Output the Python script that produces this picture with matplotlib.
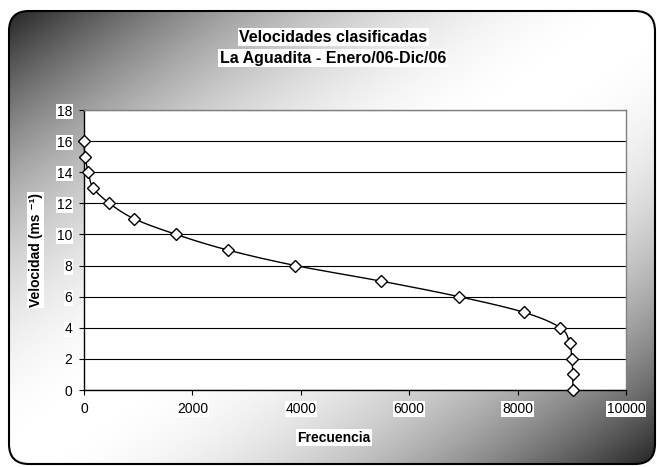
import numpy as np
import matplotlib
matplotlib.use("Agg")
import matplotlib.pyplot as plt
from matplotlib.patches import FancyBboxPatch

# ---- data ----
velocidad = [0, 1, 2, 3, 4, 5, 6, 7, 8, 9, 10, 11, 12, 13, 14, 15, 16]
frecuencia = [9020, 9020, 9000, 8960, 8790, 8110, 6920, 5480, 3900, 2650,
              1700, 930, 470, 170, 80, 20, 0]
x_ticks = [0, 2000, 4000, 6000, 8000, 10000]
y_ticks = [0, 2, 4, 6, 8, 10, 12, 14, 16, 18]
title_lines = ["Velocidades clasificadas", "La Aguadita - Enero/06-Dic/06"]
x_label = "Frecuencia"
y_label = "Velocidad (ms \u207b\u00b9)"

plt.rcParams['font.family'] = ['Liberation Sans', 'DejaVu Sans']

W, H = 657, 467
fig = plt.figure(figsize=(W / 100, H / 100), dpi=100)
fig.patch.set_facecolor('white')

# ---- background with diagonal gradient inside rounded frame ----
bg = fig.add_axes([0, 0, 1, 1])
bg.set_xlim(0, W)
bg.set_ylim(H, 0)
bg.axis('off')
x0, y0, x1, y1 = 9, 11, 655, 464
xs = np.linspace(0, 1, 300)
ys = np.linspace(0, 1, 300)
XX, YY = np.meshgrid(xs, ys)
d = np.abs(XX + YY - 1)
val = 1 - 0.85 * d ** 2
img = bg.imshow(val, cmap='gray', vmin=0, vmax=1, extent=[x0, x1, y1, y0],
                interpolation='bilinear', aspect='auto', zorder=0)
frame = FancyBboxPatch((x0, y0), x1 - x0, y1 - y0,
                       boxstyle="round,pad=0,rounding_size=20",
                       facecolor='none', edgecolor='black', linewidth=1.5,
                       zorder=2)
bg.add_patch(frame)
img.set_clip_path(frame)

# ---- titles ----
tbox = dict(facecolor='white', edgecolor='none', pad=1)
fig.text(333 / W, 1 - 37 / H, title_lines[0], ha='center', va='center',
         fontsize=11.5, fontweight='bold', bbox=tbox)
fig.text(333 / W, 1 - 58 / H, title_lines[1], ha='center', va='center',
         fontsize=11.5, fontweight='bold', bbox=tbox)

# ---- plot area ----
L, R, T, B = 84, 626, 110, 390
ax = fig.add_axes([L / W, 1 - B / H, (R - L) / W, (B - T) / H])
ax.set_facecolor('white')
ax.set_xlim(0, 10000)
ax.set_ylim(0, 18)
ax.set_xticks(x_ticks)
ax.set_yticks(y_ticks)
ax.set_xticklabels([str(v) for v in x_ticks])
ax.set_yticklabels([str(v) for v in y_ticks])
for lab in ax.get_xticklabels() + ax.get_yticklabels():
    lab.set_bbox(dict(facecolor='white', edgecolor='none', pad=0.5))
ax.tick_params(direction='out', length=3.5, width=0.8, colors='black',
               labelsize=10, pad=5)
ax.yaxis.grid(True, color='black', linewidth=0.8)
ax.set_axisbelow(True)
for s in ['left', 'bottom']:
    ax.spines[s].set_color('black')
    ax.spines[s].set_linewidth(1.0)
for s in ['top', 'right']:
    ax.spines[s].set_color('#808080')
    ax.spines[s].set_linewidth(1.0)

# smooth curve (Excel-like Bezier through points) computed in display-like space
px = np.array(frecuencia, dtype=float) / 10000 * (R - L)
py = np.array(velocidad, dtype=float) / 18 * (B - T)
P = np.column_stack([px, py])
n = len(P)
curve = []
for i in range(n - 1):
    p0 = P[i - 1] if i > 0 else P[i]
    p1 = P[i]
    p2 = P[i + 1]
    p3 = P[i + 2] if i + 2 < n else P[i + 1]
    c1 = p1 + (p2 - p0) / 6
    c2 = p2 - (p3 - p1) / 6
    t = np.linspace(0, 1, 30)[:, None]
    seg = ((1 - t) ** 3) * p1 + 3 * ((1 - t) ** 2) * t * c1 + 3 * (1 - t) * t ** 2 * c2 + t ** 3 * p2
    curve.append(seg if i == 0 else seg[1:])
curve = np.vstack(curve)
cx = curve[:, 0] / (R - L) * 10000
cy = curve[:, 1] / (B - T) * 18
ax.plot(cx, cy, color='black', linewidth=1.0, zorder=3, clip_on=False)
ax.plot(frecuencia, velocidad, linestyle='none', marker='D', markersize=6.3,
        markerfacecolor='white', markeredgecolor='black', markeredgewidth=1.0,
        zorder=4, clip_on=False)

ax.set_xlabel(x_label, fontsize=10, fontweight='bold', labelpad=12,
              bbox=dict(facecolor='white', edgecolor='none', pad=1))
ax.xaxis.set_label_coords((334 - L) / (R - L), -0.17)
ax.xaxis.label.set_va('center')
ax.set_ylabel(y_label, fontsize=10, fontweight='bold', labelpad=10,
              bbox=dict(facecolor='white', edgecolor='none', pad=1))

fig.savefig('out.png', dpi=100)
